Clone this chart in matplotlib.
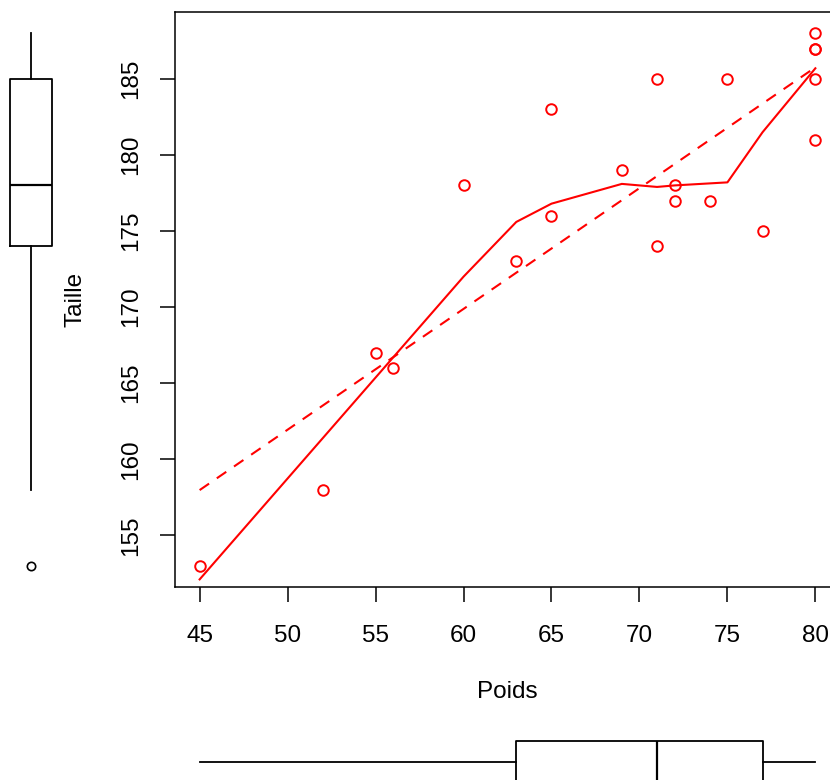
import numpy as np
import matplotlib
matplotlib.use('Agg')
import matplotlib.pyplot as plt

plt.rcParams['font.family'] = ['Liberation Sans', 'DejaVu Sans']

# data
poids = [45, 52, 55, 56, 60, 63, 65, 65, 69, 71, 71, 72, 72, 74, 75, 77,
         80, 80, 80, 80, 80]
taille = [153, 158, 167, 166, 178, 173, 183, 176, 179, 185, 174, 178, 177,
          177, 185, 175, 188, 187, 187, 185, 181]

# smooth (loess) curve vertices
smooth_x = [45, 60, 63, 65, 69, 71, 72, 75, 77, 80]
smooth_y = [152.1, 172.0, 175.6, 176.8, 178.1, 177.9, 178.0, 178.2, 181.5, 185.7]

xticks = [45, 50, 55, 60, 65, 70, 75, 80]
yticks = [155, 160, 165, 170, 175, 180, 185]

W, H = 830.0, 780.0
fig = plt.figure(figsize=(W / 100, H / 100), dpi=100)

def rect(x0, y0, x1, y1):
    # pixel box (top-left origin) -> figure fraction
    return [x0 / W, 1 - y1 / H, (x1 - x0) / W, (y1 - y0) / H]

fs = 17.5

# main scatter panel (right side is cut off by the image edge)
ax = fig.add_axes(rect(175, 12, 840, 587))
ax.plot(poids, taille, 'o', mfc='none', mec='red', ms=7.6, mew=1.4, ls='none')
b, a = np.polyfit(poids, taille, 1)
xl = np.array([min(poids), max(poids)])
ax.plot(xl, a + b * xl, color='red', lw=1.5, dashes=(5.5, 4.5))
ax.plot(smooth_x, smooth_y, color='red', lw=1.5)
ax.set_xlim(43.6, 81.4)
ax.set_ylim(151.6, 189.4)
ax.set_xticks(xticks)
ax.set_yticks(yticks)
ax.tick_params(length=11, width=1.1, labelsize=fs)
ax.tick_params(axis='x', pad=16)
ax.tick_params(axis='y', pad=13)
for lab in ax.get_yticklabels():
    lab.set_rotation(90)
    lab.set_va('center')
for sp in ax.spines.values():
    sp.set_linewidth(1.1)
ax.set_xlabel('Poids', fontsize=fs, labelpad=25)
ax.set_ylabel('Taille', fontsize=fs, labelpad=24)

# left marginal boxplot (shares y scale)
axl = fig.add_axes(rect(0, 12, 62, 587))
axl.boxplot(taille, positions=[31], widths=42, whis=1.5, showcaps=False,
            boxprops=dict(color='black', lw=1.3),
            whiskerprops=dict(color='black', lw=1.3),
            medianprops=dict(color='black', lw=1.6),
            flierprops=dict(marker='o', mfc='none', mec='black', ms=6, mew=1.2))
axl.set_xlim(0, 62)
axl.set_ylim(151.6, 189.4)
axl.axis('off')

# bottom marginal boxplot (shares x scale), cut by the image edge
axb = fig.add_axes(rect(175, 720, 840, 804))
axb.boxplot(poids, positions=[42], widths=42, whis=1.5, showcaps=False,
            orientation='horizontal',
            boxprops=dict(color='black', lw=1.3),
            whiskerprops=dict(color='black', lw=1.3),
            medianprops=dict(color='black', lw=1.6),
            flierprops=dict(marker='o', mfc='none', mec='black', ms=6, mew=1.2))
axb.set_xlim(43.6, 81.4)
axb.set_ylim(0, 84)
axb.axis('off')

fig.savefig('out.png', dpi=100)
